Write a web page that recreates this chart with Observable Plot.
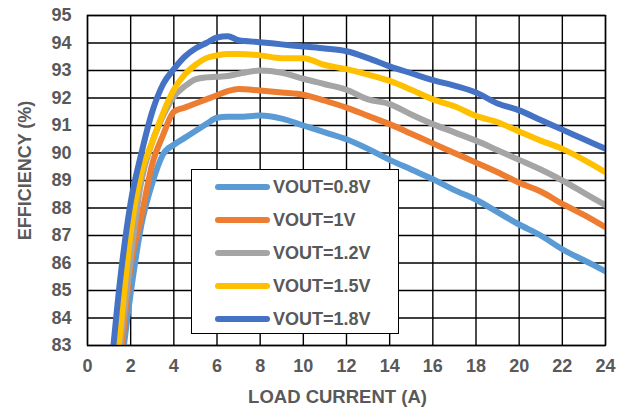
<!DOCTYPE html>
<html><head><meta charset="utf-8">
<script src="https://cdn.jsdelivr.net/npm/d3@7"></script>
<script src="https://cdn.jsdelivr.net/npm/@observablehq/plot@0.6"></script>
<style>
html,body{margin:0;padding:0;background:#fff;}
#wrap{position:relative;width:623px;height:410px;font-family:"Liberation Sans",Arial,sans-serif;}
#legend{position:absolute;background:#fff;border:1.3px solid #000;box-sizing:border-box;}
.row{position:absolute;display:flex;align-items:center;font-weight:bold;font-size:18px;color:#595959;}
.sw{width:55px;height:6px;border-radius:3px;margin-right:3px;}
</style></head>
<body><div id="wrap"></div>
<script>
const current = [1, 1.5, 2, 2.5, 3, 3.5, 4, 4.5, 5, 5.5, 6, 6.5, 7, 8, 9, 10, 11, 12, 13, 14, 15, 16, 17, 18, 19, 20, 21, 22, 23, 24];
const eff08 = [78.5, 81.8, 84.9, 87.4, 88.9, 89.95, 90.3, 90.55, 90.8, 91.05, 91.28, 91.32, 91.32, 91.36, 91.25, 91.0, 90.75, 90.5, 90.15, 89.75, 89.4, 89.05, 88.65, 88.3, 87.85, 87.4, 87.0, 86.5, 86.1, 85.7];
const eff10 = [78.5, 82.2, 85.9, 87.7, 89.6, 90.65, 91.5, 91.65, 91.8, 91.95, 92.1, 92.25, 92.33, 92.27, 92.2, 92.12, 91.9, 91.65, 91.35, 91.05, 90.7, 90.35, 90.0, 89.65, 89.3, 88.92, 88.6, 88.15, 87.75, 87.3];
const eff12 = [79.5, 82.9, 86.2, 89.0, 90.4, 91.35, 92.05, 92.42, 92.68, 92.75, 92.77, 92.8, 92.88, 93.0, 92.92, 92.7, 92.5, 92.3, 91.95, 91.78, 91.4, 91.05, 90.75, 90.45, 90.1, 89.75, 89.4, 89.0, 88.55, 88.1];
const eff15 = [80.0, 83.4, 87.1, 89.3, 90.4, 91.45, 92.3, 92.85, 93.2, 93.45, 93.55, 93.6, 93.6, 93.55, 93.45, 93.45, 93.2, 93.05, 92.85, 92.62, 92.3, 91.95, 91.7, 91.35, 91.12, 90.78, 90.45, 90.15, 89.75, 89.3];
const eff18 = [81.3, 85.3, 88.2, 90.0, 91.5, 92.5, 93.05, 93.5, 93.8, 94.0, 94.2, 94.25, 94.1, 94.03, 93.95, 93.87, 93.8, 93.7, 93.45, 93.15, 92.9, 92.65, 92.45, 92.2, 91.8, 91.55, 91.2, 90.85, 90.5, 90.15];
const seriesNames = ["VOUT=0.8V", "VOUT=1V", "VOUT=1.2V", "VOUT=1.5V", "VOUT=1.8V"];
const seriesColors = ["#5B9BD5", "#ED7D31", "#A5A5A5", "#FFC000", "#4472C4"];
const seriesValues = [eff08, eff10, eff12, eff15, eff18];
const xTicks = [0, 2, 4, 6, 8, 10, 12, 14, 16, 18, 20, 22, 24];
const yTicks = [83, 84, 85, 86, 87, 88, 89, 90, 91, 92, 93, 94, 95];

const data = [];
seriesNames.forEach((name, i) => current.forEach((c, j) => data.push({series: name, x: c, y: seriesValues[i][j]})));

const W = 623, H = 410, mL = 87, mR = 18, mT = 15, mB = 65;
const chart = Plot.plot({
  width: W, height: H,
  marginLeft: mL, marginRight: mR, marginTop: mT, marginBottom: mB,
  style: {fontFamily: '"Liberation Sans", Arial, sans-serif', background: "#fff"},
  x: {domain: [0, 24]},
  y: {domain: [83, 95]},
  color: {domain: seriesNames, range: seriesColors},
  marks: [
    Plot.gridX(xTicks, {stroke: "#000", strokeOpacity: 1, strokeWidth: 1.4}),
    Plot.gridY(yTicks, {stroke: "#000", strokeOpacity: 1, strokeWidth: 1.4}),
    Plot.line(data, {x: "x", y: "y", z: "series", stroke: "series", strokeWidth: 6, curve: "monotone-x", clip: true, strokeLinejoin: "round"}),
    Plot.frame({stroke: "#000", strokeWidth: 1.4}),
    Plot.axisX({ticks: xTicks, tickSize: 0, tickPadding: 14, label: null, fontSize: 18, fontWeight: "bold", fill: "#595959"}),
    Plot.axisY({ticks: yTicks, tickSize: 0, tickPadding: 16, label: null, fontSize: 18, fontWeight: "bold", fill: "#595959"}),
    Plot.text(["LOAD CURRENT (A)"], {frameAnchor: "bottom", textAnchor: "middle", lineAnchor: "middle", dy: 52, dx: -9, fontSize: 18.5, fontWeight: "bold", fill: "#595959"}),
    Plot.text(["EFFICIENCY (%)"], {frameAnchor: "middle", textAnchor: "middle", lineAnchor: "middle", rotate: -90, dx: -321, dy: -10, fontSize: 18, fontWeight: "bold", fill: "#595959"})
  ]
});
const wrap = document.getElementById("wrap");
wrap.appendChild(chart);

const lg = document.createElement("div");
lg.id = "legend";
Object.assign(lg.style, {left: "191px", top: "169px", width: "208px", height: "165px"});
seriesNames.forEach((name, i) => {
  const r = document.createElement("div");
  r.className = "row";
  r.style.left = "23px";
  r.style.top = (5 + i * 33) + "px";
  r.style.height = "24px";
  const sw = document.createElement("div");
  sw.className = "sw";
  sw.style.background = seriesColors[i];
  const t = document.createElement("span");
  t.textContent = name;
  r.appendChild(sw); r.appendChild(t);
  lg.appendChild(r);
});
wrap.appendChild(lg);
</script></body></html>
